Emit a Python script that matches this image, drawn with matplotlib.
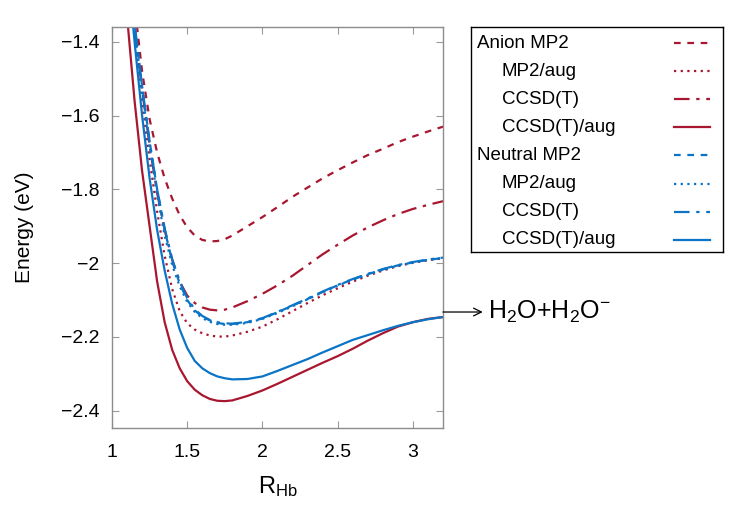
import numpy as np
import matplotlib
matplotlib.use('Agg')
import matplotlib.pyplot as plt
from matplotlib.ticker import FuncFormatter, MultipleLocator
from matplotlib.lines import Line2D

plt.rcParams['font.family'] = ['Liberation Sans', 'DejaVu Sans']
plt.rcParams['mathtext.fontset'] = 'custom'
plt.rcParams['mathtext.rm'] = 'Liberation Sans'
plt.rcParams['mathtext.default'] = 'regular'

# bond distance grid
r_hb = [1.05, 1.10, 1.15, 1.20, 1.25, 1.30, 1.35, 1.40, 1.45, 1.50,
        1.55, 1.60, 1.65, 1.70, 1.75, 1.80, 1.90, 2.00, 2.10, 2.20,
        2.30, 2.40, 2.50, 2.60, 2.70, 2.80, 2.90, 3.00, 3.10, 3.20]

# anion curves (eV)
anion_mp2 = [-0.90, -1.10, -1.30, -1.48, -1.61, -1.70, -1.77, -1.825, -1.87, -1.903,
             -1.925, -1.937, -1.941, -1.940, -1.935, -1.925, -1.900, -1.875, -1.848, -1.820,
             -1.795, -1.770, -1.748, -1.727, -1.707, -1.690, -1.672, -1.657, -1.643, -1.630]
anion_mp2_aug = [-0.97, -1.19, -1.38, -1.56, -1.72, -1.86, -1.98, -2.07, -2.13, -2.163,
                 -2.180, -2.190, -2.196, -2.199, -2.199, -2.196, -2.186, -2.172, -2.152, -2.130,
                 -2.108, -2.087, -2.068, -2.050, -2.034, -2.020, -2.008, -1.999, -1.992, -1.987]
anion_ccsdt = [-0.95, -1.17, -1.36, -1.53, -1.68, -1.81, -1.91, -1.99, -2.05, -2.088,
               -2.108, -2.120, -2.126, -2.128, -2.126, -2.120, -2.103, -2.083, -2.060, -2.034,
               -2.005, -1.976, -1.950, -1.925, -1.903, -1.884, -1.867, -1.853, -1.842, -1.832]
anion_ccsdt_aug = [-1.05, -1.33, -1.56, -1.75, -1.90, -2.05, -2.16, -2.235, -2.285, -2.320,
                   -2.343, -2.358, -2.368, -2.373, -2.374, -2.372, -2.360, -2.345, -2.327, -2.308,
                   -2.289, -2.270, -2.252, -2.232, -2.210, -2.190, -2.172, -2.160, -2.151, -2.146]

# neutral curves (eV)
neutral_mp2 = [-0.92, -1.15, -1.35, -1.52, -1.67, -1.80, -1.91, -1.995, -2.055, -2.100,
               -2.128, -2.145, -2.155, -2.162, -2.165, -2.165, -2.160, -2.150, -2.133, -2.115,
               -2.097, -2.078, -2.060, -2.044, -2.030, -2.017, -2.006, -1.998, -1.991, -1.986]
neutral_mp2_aug = [-0.93, -1.16, -1.36, -1.535, -1.685, -1.815, -1.925, -2.005, -2.063, -2.105,
                   -2.132, -2.149, -2.159, -2.165, -2.167, -2.167, -2.162, -2.151, -2.135, -2.117,
                   -2.098, -2.079, -2.061, -2.045, -2.031, -2.018, -2.007, -1.998, -1.991, -1.986]
neutral_ccsdt = [-0.92, -1.15, -1.35, -1.52, -1.67, -1.80, -1.905, -1.99, -2.05, -2.095,
                 -2.125, -2.143, -2.154, -2.160, -2.163, -2.164, -2.159, -2.149, -2.132, -2.114,
                 -2.096, -2.077, -2.059, -2.043, -2.029, -2.016, -2.005, -1.997, -1.990, -1.985]
neutral_ccsdt_aug = [-0.95, -1.18, -1.40, -1.60, -1.77, -1.91, -2.02, -2.11, -2.18, -2.230,
                     -2.265, -2.285, -2.298, -2.307, -2.312, -2.315, -2.314, -2.307, -2.292, -2.276,
                     -2.260, -2.242, -2.225, -2.208, -2.195, -2.182, -2.170, -2.160, -2.152, -2.146]

labels = ['Anion MP2', 'MP2/aug', 'CCSD(T)', 'CCSD(T)/aug',
          'Neutral MP2', 'MP2/aug', 'CCSD(T)', 'CCSD(T)/aug']
series = [anion_mp2, anion_mp2_aug, anion_ccsdt, anion_ccsdt_aug,
          neutral_mp2, neutral_mp2_aug, neutral_ccsdt, neutral_ccsdt_aug]

red = '#a8172f'
blue = '#0b74c6'
colors = [red] * 4 + [blue] * 4
styles = [(0, (3, 3)), (0, (1, 2)), (0, (7, 3, 1.5, 3)), '-'] * 2
indent = [False, True, True, True] * 2

fig = plt.figure(figsize=(7.5, 5.25), dpi=100)
ax = fig.add_axes([112 / 750, 1 - 427.7 / 525, 331 / 750, 401 / 525])

for yy, c, ls in zip(series, colors, styles):
    ax.plot(r_hb, yy, color=c, linestyle=ls, lw=1.6)

ax.set_xlim(1, 3.2)
ax.set_ylim(-2.446, -1.359)
ax.xaxis.set_major_locator(MultipleLocator(0.5))
ax.yaxis.set_major_locator(MultipleLocator(0.2))
fmt = FuncFormatter(lambda v, p: ('%g' % round(v, 2)).replace('-', '\u2212'))
ax.xaxis.set_major_formatter(fmt)
ax.yaxis.set_major_formatter(fmt)
for s in ax.spines.values():
    s.set_color('#8c8c8c')
    s.set_linewidth(1.0)
ax.tick_params(direction='in', length=5, width=0.8, color='#9a9a9a',
               top=True, right=True, labelsize=14, pad=9)
ax.tick_params(axis='x', pad=12)
ax.set_xlabel(r'R$_{\mathregular{Hb}}$', fontsize=17, labelpad=9)
ax.set_ylabel('Energy (eV)', fontsize=15, labelpad=19)

# dissociation limit marker
ax.annotate('', xy=(1.12, 0.2885), xytext=(1.0, 0.2885),
            xycoords='axes fraction', textcoords='axes fraction',
            arrowprops=dict(arrowstyle='->', lw=0.9, color='black',
                            shrinkA=0, shrinkB=0, mutation_scale=14))
ax.text(1.136, 0.2885, r'H$_2$O+H$_2$O$^{-}$', transform=ax.transAxes,
        ha='left', va='center', fontsize=18)

# legend box, gnuplot style: text left, sample right
lax = fig.add_axes([470.7 / 750, 1 - 251.7 / 525, 252 / 750, 224.4 / 525])
lax.set_xlim(0, 1)
lax.set_ylim(len(labels), 0)
lax.set_xticks([])
lax.set_yticks([])
for s in lax.spines.values():
    s.set_color('black')
    s.set_linewidth(1.0)
for i, (lab, c, ls, ind) in enumerate(zip(labels, colors, styles, indent)):
    yrow = i + 0.57
    lax.text(0.124 if ind else 0.024, yrow, lab, ha='left', va='center', fontsize=13.5)
    lax.add_line(Line2D([0.805, 0.95], [yrow, yrow], color=c, linestyle=ls, lw=1.6))

fig.savefig('out.png', dpi=100)
